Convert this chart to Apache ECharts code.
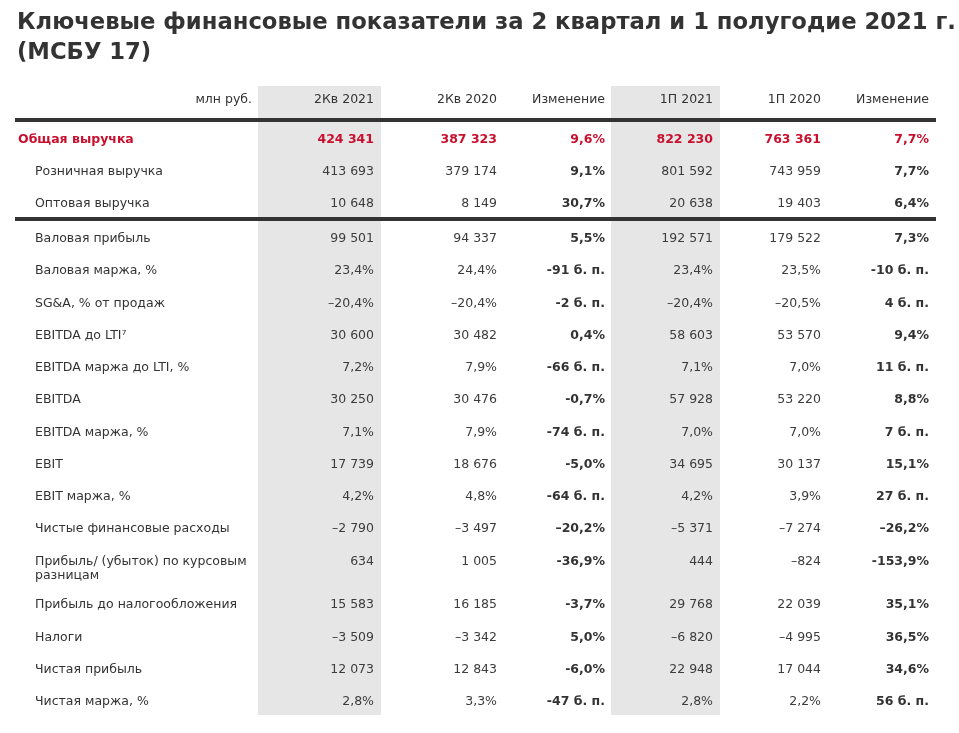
<!DOCTYPE html>
<html>
<head>
<meta charset="utf-8">
<script src="https://cdn.jsdelivr.net/npm/echarts@6/dist/echarts.min.js"></script>
<style>
html,body{margin:0;padding:0;background:#fff;}
#chart{width:959px;height:733px;}
</style>
</head>
<body>
<div id="chart"></div>
<script>
// ---------- DATA ----------
const titleText = 'Ключевые финансовые показатели за 2 квартал и 1 полугодие 2021 г.\n(МСБУ 17)';
const columnHeaders = ['млн руб.', '2Кв 2021', '2Кв 2020', 'Изменение', '1П 2021', '1П 2020', 'Изменение'];
const rowLabels = [
  'Общая выручка',
  'Розничная выручка',
  'Оптовая выручка',
  'Валовая прибыль',
  'Валовая маржа, %',
  'SG&A, % от продаж',
  'EBITDA до LTI⁷',
  'EBITDA маржа до LTI, %',
  'EBITDA',
  'EBITDA маржа, %',
  'EBIT',
  'EBIT маржа, %',
  'Чистые финансовые расходы',
  'Прибыль/ (убыток) по курсовым\nразницам',
  'Прибыль до налогообложения',
  'Налоги',
  'Чистая прибыль',
  'Чистая маржа, %'
];
const q2_2021 = ['424 341','413 693','10 648','99 501','23,4%','–20,4%','30 600','7,2%','30 250','7,1%','17 739','4,2%','–2 790','634','15 583','–3 509','12 073','2,8%'];
const q2_2020 = ['387 323','379 174','8 149','94 337','24,4%','–20,4%','30 482','7,9%','30 476','7,9%','18 676','4,8%','–3 497','1 005','16 185','–3 342','12 843','3,3%'];
const q2_change = ['9,6%','9,1%','30,7%','5,5%','-91 б. п.','-2 б. п.','0,4%','-66 б. п.','-0,7%','-74 б. п.','-5,0%','-64 б. п.','–20,2%','-36,9%','-3,7%','5,0%','-6,0%','-47 б. п.'];
const h1_2021 = ['822 230','801 592','20 638','192 571','23,4%','–20,4%','58 603','7,1%','57 928','7,0%','34 695','4,2%','–5 371','444','29 768','–6 820','22 948','2,8%'];
const h1_2020 = ['763 361','743 959','19 403','179 522','23,5%','–20,5%','53 570','7,0%','53 220','7,0%','30 137','3,9%','–7 274','–824','22 039','–4 995','17 044','2,2%'];
const h1_change = ['7,7%','7,7%','6,4%','7,3%','-10 б. п.','4 б. п.','9,4%','11 б. п.','8,8%','7 б. п.','15,1%','27 б. п.','–26,2%','-153,9%','35,1%','36,5%','34,6%','56 б. п.'];
const highlightRows = [0];          // red bold rows
const boldColumns = [3, 6];         // change columns are bold

// ---------- LAYOUT ----------
const W = 959;
const COL_RIGHT = [252, 374, 497, 605, 713, 821, 929];
const LABEL_X_TOP = 18, LABEL_X = 35;
const SHADE_COLS = [[258, 381], [611, 720]];
const SHADE_Y = [86, 715];
const RULES_Y = [118, 217];
const RULE_X = [15, 936];
// row blocks
const BLOCKS = [
  {rows:[0,2],   top:124,   height:96},
  {rows:[3,12],  top:222.9, height:322.2},
  {rows:[13,13], top:546,   height:32},
  {rows:[14,17], top:588.8, height:129.3}
];
const HEADER = {top:84, height:32};
const FONT = '"DejaVu Sans", Verdana, sans-serif';
const TXT = '#333333', NUM = '#3c3c3c', RED = '#c8102e', SHADE = '#e6e6e6';
const FS = 12.5;

const valueCols = [q2_2021, q2_2020, q2_change, h1_2021, h1_2020, h1_change];

const grids = [], xAxes = [], yAxes = [], series = [];

function addGrid(top, height, cats) {
  const gi = grids.length;
  grids.push({left:0, right:0, top:top, height:height, containLabel:false});
  xAxes.push({type:'value', gridIndex:gi, min:0, max:W, show:false});
  yAxes.push({type:'category', gridIndex:gi, data:cats, inverse:true, show:false});
  return gi;
}

function cellSeries(gi, cells) {
  return {
    type:'custom', xAxisIndex:gi, yAxisIndex:gi, clip:false, silent:true, z:5,
    data: cells.map(c => [c.x, c.row]),
    renderItem: function(params, api) {
      const c = cells[params.dataIndex];
      const p = api.coord([api.value(0), api.value(1)]);
      const multi = c.text.indexOf('\n') >= 0;
      return {
        type:'text',
        style:{
          text:c.text, x:p[0], y: multi ? p[1] - 7 : p[1],
          align:c.align, verticalAlign: multi ? 'top' : 'middle',
          fill:c.color, font:(c.bold ? 'bold ' : '') + FS + 'px ' + FONT,
          lineHeight:14
        }
      };
    }
  };
}

// header
{
  const gi = addGrid(HEADER.top, HEADER.height, ['header']);
  const cells = columnHeaders.map((h, i) => ({x:COL_RIGHT[i], row:0, text:h, align:'right', bold:false, color:TXT}));
  series.push(cellSeries(gi, cells));
}
// body blocks
BLOCKS.forEach(b => {
  const idx = [];
  for (let r = b.rows[0]; r <= b.rows[1]; r++) idx.push(r);
  const gi = addGrid(b.top, b.height, idx.map(r => rowLabels[r]));
  const cells = [];
  idx.forEach((r, k) => {
    const hl = highlightRows.indexOf(r) >= 0;
    cells.push({x: hl ? LABEL_X_TOP : LABEL_X, row:k, text:rowLabels[r], align:'left', bold:hl, color: hl ? RED : TXT});
    valueCols.forEach((col, ci) => {
      const bold = boldColumns.indexOf(ci+1) >= 0;
      cells.push({x:COL_RIGHT[ci+1], row:k, text:col[r], align:'right',
        bold: hl || bold, color: hl ? RED : (bold ? TXT : NUM)});
    });
  });
  series.push(cellSeries(gi, cells));
});

const graphic = [];
SHADE_COLS.forEach(s => graphic.push({type:'rect', z:0, silent:true,
  shape:{x:s[0], y:SHADE_Y[0], width:s[1]-s[0], height:SHADE_Y[1]-SHADE_Y[0]}, style:{fill:SHADE}}));
RULES_Y.forEach(y => graphic.push({type:'rect', z:1, silent:true,
  shape:{x:RULE_X[0], y:y, width:RULE_X[1]-RULE_X[0], height:4}, style:{fill:TXT}}));

const chart = echarts.init(document.getElementById('chart'), null, {renderer:'canvas'});
chart.setOption({
  backgroundColor:'#ffffff',
  animation:false,
  title:{
    text:titleText, left:17, top:8, padding:0,
    textStyle:{fontFamily:FONT, fontSize:22.7, fontWeight:'bold', color:TXT, lineHeight:30}
  },
  grid:grids, xAxis:xAxes, yAxis:yAxes,
  graphic:graphic,
  series:series
});
</script>
</body>
</html>
